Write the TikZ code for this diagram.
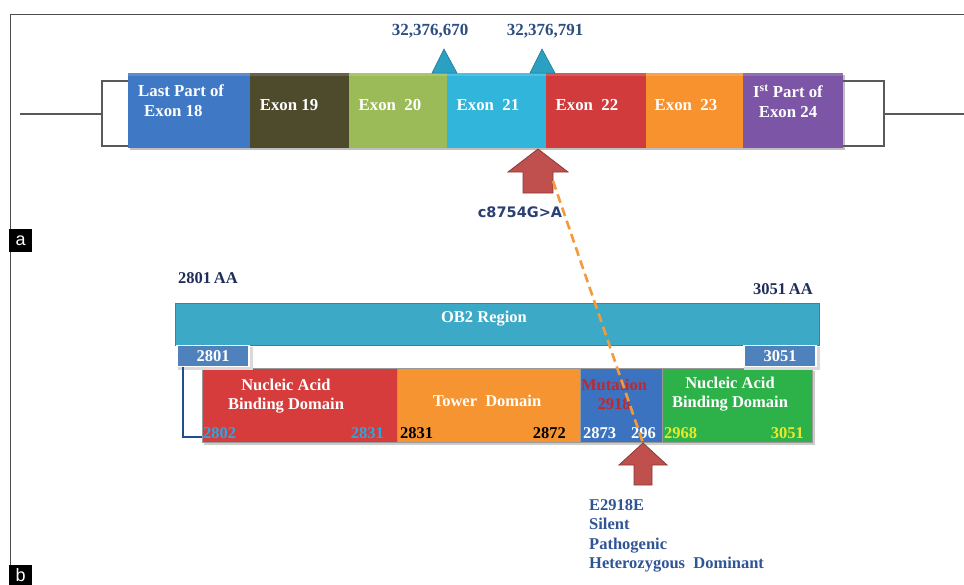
\documentclass[tikz,border=0pt]{standalone}
\usepackage{fontspec}
\setmainfont{Liberation Serif}
\newfontfamily\dvsans{DejaVu Sans}
\newfontfamily\arialf{Liberation Sans}
\usetikzlibrary{calc}
\definecolor{cE18}{HTML}{3F78C4}
\definecolor{cE19}{HTML}{4E4A2C}
\definecolor{cE20}{HTML}{9BBB59}
\definecolor{cE21}{HTML}{31B5DB}
\definecolor{cE22}{HTML}{D13B3B}
\definecolor{cE23}{HTML}{F7922F}
\definecolor{cE24}{HTML}{7D55A6}
\definecolor{tri}{HTML}{2AA0C2}
\definecolor{posblue}{HTML}{2E4E80}
\definecolor{arrred}{HTML}{C0504D}
\definecolor{arrredd}{HTML}{8C3836}
\definecolor{dashor}{HTML}{F39A3A}
\definecolor{obbar}{HTML}{3CAAC6}
\definecolor{nbox}{HTML}{4F81BD}
\definecolor{dred}{HTML}{D63C3C}
\definecolor{dora}{HTML}{F59431}
\definecolor{dblue}{HTML}{3B73C0}
\definecolor{dgreen}{HTML}{2DB24A}
\definecolor{ncyan}{HTML}{2AA7DF}
\definecolor{nyellow}{HTML}{E9E82A}
\definecolor{mutred}{HTML}{C0282D}
\definecolor{navy}{HTML}{1F2D5A}
\definecolor{brk}{HTML}{1F4E8C}
\definecolor{txtblue}{HTML}{2F5597}
\definecolor{cmutc}{HTML}{2A3F72}
\tikzset{
  exonbox/.style={draw=none, minimum height=75pt, inner sep=0pt, anchor=north west},
  exonlbl/.style={text=white, font=\fontsize{16.8}{20}\selectfont\bfseries, inner sep=0pt},
  domainbox/.style={draw=black!40, line width=0.4pt, minimum height=74pt, inner sep=0pt, anchor=north west},
  domlbl/.style={text=white, font=\fontsize{16.5}{19}\selectfont\bfseries, inner sep=0pt, align=center},
  numlbl/.style={font=\fontsize{16.5}{18}\selectfont\bfseries, inner sep=0pt},
  posl/.style={text=posblue, font=\fontsize{17}{18}\selectfont\bfseries, inner sep=0pt},
  nbx/.style={fill=nbox, draw=white, line width=1.5pt, minimum width=72pt, minimum height=21pt, inner sep=0pt, text=white, font=\fontsize{16.5}{18}\selectfont\bfseries},
  panel/.style={fill=black, text=white, minimum width=23pt, minimum height=23pt, inner sep=0pt, font=\arialf\fontsize{18}{18}\selectfont},
  genel/.style={draw=black!65, line width=1.3pt},
  redarrow/.style={fill=arrred, draw=arrredd, line width=0.8pt, line join=miter},
  marker/.style={fill=tri, draw=tri!70!black, line width=0.5pt}
}
\begin{document}
\begin{tikzpicture}[x=1pt,y=-1pt]
\useasboundingbox (0,0) rectangle (964,584);
\fill[white] (0,0) rectangle (964,584);
% frame
\draw[black!70, line width=1pt] (964,14) -- (10,14) -- (10,584);
\node[panel, anchor=north west] (pa) at (9,229) {a};
\node[panel, anchor=north west, minimum height=20pt] (pb) at (9,565) {b};

% ---------- gene (a) ----------
\foreach \nm/\x/\w/\c in {e18/128/122/cE18, e19/250/99/cE19, e20/349/98/cE20, e21/447/99/cE21, e22/546/100/cE22, e23/646/97/cE23, e24/743/100/cE24}{
  \fill[black!25] (\x+2,75) rectangle (\x+\w+2,150);
  \node[exonbox, fill=\c, minimum width=\w pt] (\nm) at (\x,73) {};
  \fill[white, opacity=0.15] (\x,73) rectangle (\x+\w,76);
}
\node[exonlbl, align=left, anchor=west] (t18) at (138,101) {Last Part of\\\hspace*{6pt}Exon 18};
\node[exonlbl] (t19) at (289,105) {Exon 19};
\node[exonlbl] (t20) at (390,105) {Exon\ \ 20};
\node[exonlbl] (t21) at (488,105) {Exon\ \ 21};
\node[exonlbl] (t22) at (587,105) {Exon\ \ 22};
\node[exonlbl] (t23) at (686,105) {Exon\ \ 23};
\node[exonlbl, align=center] (t24) at (788,101) {I\textsuperscript{st} Part of\\Exon 24};

\coordinate (gl0) at (20,114);
\coordinate (gl1) at (102,114);
\coordinate (gr1) at (884,114);
\coordinate (gr0) at (964,114);
\draw[genel] (gl0) -- (gl1);
\draw[genel] (e18.north west |- 0,81) -| (gl1 |- 0,146) -- (e18.south west |- 0,146);
\draw[genel] (e24.north east |- 0,81) -| (gr1 |- 0,146) -- (e24.south east |- 0,146);
\draw[genel] (gr1) -- (gr0);

% markers
\draw[marker] (432,73) -- (444,49) -- (457,73) -- cycle;
\draw[marker] (530,73) -- (542,49) -- (555,73) -- cycle;
\node[posl] (p1) at (430,31) {32,376,670};
\node[posl] (p2) at (545,31) {32,376,791};

% top arrow
\draw[redarrow] (538,149) -- (568,172) -- (553,172) -- (553,193) -- (523,193) -- (523,172) -- (508,172) -- cycle;
\coordinate (arrA) at (553,181);
\node[text=cmutc, font=\dvsans\bfseries\fontsize{14.5}{16}\selectfont, inner sep=0pt] (cmut) at (520,212) {c8754G>A};

% ---------- protein (b) ----------
\node[text=navy, font=\fontsize{16.5}{18}\selectfont\bfseries, inner sep=0pt] (aa1) at (208,278) {2801\,AA};
\node[text=navy, font=\fontsize{16.5}{18}\selectfont\bfseries, inner sep=0pt] (aa2) at (783,289) {3051\,AA};

\node[fill=obbar, draw=obbar!80!black, line width=0.4pt, minimum width=644pt, minimum height=42pt, anchor=north west, inner sep=0pt] (ob2) at (175,303) {};
\node[domlbl] (ob2t) at (484,319) {OB2 Region};

\fill[black!20] (204,371) rectangle (815,445);
\node[domainbox, fill=dred, minimum width=195pt] (d1) at (202,368) {};
\node[domainbox, fill=dora, minimum width=183pt] (d2) at (397,368) {};
\node[domainbox, fill=dblue, minimum width=82pt] (d3) at (580,368) {};
\node[domainbox, fill=dgreen, minimum width=150pt] (d4) at (662,368) {};

\node[domlbl] (d1t) at (286,396) {Nucleic Acid\\Binding Domain};
\node[domlbl] (d2t) at (487,401) {Tower\ \ Domain};
\node[domlbl, text=mutred] (d3t) at (614,394) {Mutation\\2918};
\node[domlbl] (d4t) at (730,394) {Nucleic Acid\\Binding Domain};

\node[numlbl, text=ncyan, anchor=west] (n1) at (203,433) {2802};
\node[numlbl, text=ncyan, anchor=east] (n2) at (384,433) {2831};
\node[numlbl, text=black, anchor=west] (n3) at (400,433) {2831};
\node[numlbl, text=black, anchor=east] (n4) at (566,433) {2872};
\node[numlbl, text=white, anchor=west] (n5) at (583,433) {2873};
\node[numlbl, text=white, anchor=west] (n6) at (631,433) {296};
\node[numlbl, text=nyellow, anchor=west] (n7) at (664,433) {2968};
\node[numlbl, text=nyellow, anchor=east] (n8) at (804,433) {3051};

\fill[black!15] (178,347) rectangle (253,370);
\fill[black!15] (744,347) rectangle (820,370);
\node[nbx] (b2801) at (213,356) {2801};
\node[nbx] (b3051) at (780,356) {3051};

\draw[brk, line width=2pt] (b2801.south -| 183,0) |- (d1.south west |- 0,437);

% bottom arrow
\draw[redarrow] (643,443) -- (667,465) -- (652,465) -- (652,485) -- (634,485) -- (634,465) -- (619,465) -- cycle;
\coordinate (arrB) at (643,443);

% dashed connector
\draw[dashor, line width=2.6pt, dash pattern=on 9pt off 5pt] (arrA) -- (arrB);

\node[text=txtblue, font=\fontsize{16.5}{19.5}\selectfont\bfseries, align=left, anchor=north west, inner sep=0pt] (info) at (589,499) {E2918E\\Silent\\Pathogenic\\Heterozygous\ \ Dominant};
\end{tikzpicture}
\end{document}
